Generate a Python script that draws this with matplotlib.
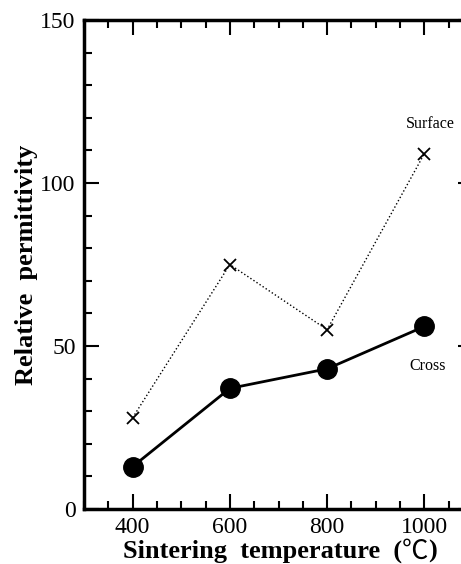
import matplotlib
matplotlib.use("Agg")
import matplotlib.pyplot as plt
from matplotlib.ticker import MultipleLocator, FixedLocator

temps = [400, 600, 800, 1000]
surface = [28, 75, 55, 109]
cross = [13, 37, 43, 56]
xticks = [400, 600, 800, 1000]
yticks = [0, 50, 100, 150]

serif = ['Liberation Serif', 'DejaVu Serif']
fig = plt.figure(figsize=(4.61, 5.64), dpi=100)
ax = fig.add_axes([84/461, 55/564, 389/461, 489/564])

ax.plot(temps, surface, color='black', linestyle=':', linewidth=1.0,
        marker='x', markersize=9, markeredgewidth=1.3)
ax.plot(temps, cross, color='black', linestyle='-', linewidth=2.0,
        marker='o', markersize=14)

ax.set_xlim(300, 1100)
ax.set_ylim(0, 150)
ax.xaxis.set_major_locator(FixedLocator(xticks))
ax.xaxis.set_minor_locator(MultipleLocator(50))
ax.yaxis.set_major_locator(FixedLocator(yticks))
ax.yaxis.set_minor_locator(MultipleLocator(10))
ax.tick_params(which='both', direction='in', top=True, right=True, width=1.5)
ax.tick_params(which='major', length=11, labelsize=17, pad=6)
ax.tick_params(which='minor', length=6)
for lab in ax.get_xticklabels() + ax.get_yticklabels():
    lab.set_family(serif)
for s in ax.spines.values():
    s.set_linewidth(2.5)

ax.text(1012, 118, 'Surface', fontsize=11.5, family=serif, ha='center', va='center')
ax.text(1006, 44, 'Cross', fontsize=11.5, family=serif, ha='center', va='center')

ax.set_ylabel('Relative  permittivity', fontsize=19, fontweight='bold', family=serif, labelpad=2)

# x label: bold words with a thin-stroke degree Celsius sign
fig.canvas.draw()
renderer = fig.canvas.get_renderer()
parts = [('Sintering  temperature  (', serif, 'bold'),
         ('℃', ['Noto Sans CJK JP', 'DejaVu Sans'], 'normal'),
         (')', serif, 'bold')]
ypix = 564 - 551
texts = []
widths = []
for s, fam, w in parts:
    t = fig.text(0, ypix / 564, s, fontsize=19, family=fam, fontweight=w, va='center', ha='left')
    texts.append(t)
    widths.append(t.get_window_extent(renderer).width)
total = sum(widths)
xstart = 280 - total / 2
for t, wd in zip(texts, widths):
    t.set_x(xstart / 461)
    xstart += wd

fig.savefig('out.png', dpi=100)
